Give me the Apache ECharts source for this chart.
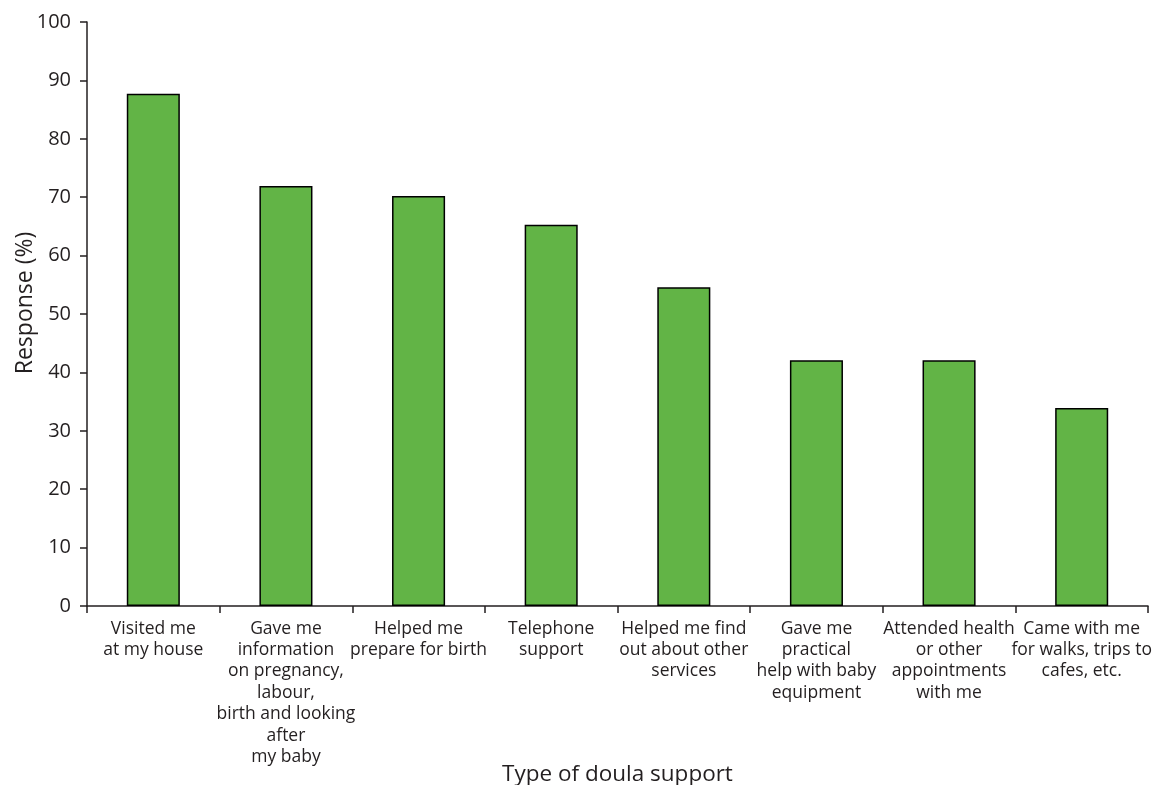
<!DOCTYPE html>
<html>
<head>
<meta charset="utf-8">
<script src="https://cdn.jsdelivr.net/npm/echarts@6/dist/echarts.min.js"></script>
<style>html,body{margin:0;padding:0;background:#fff;}#c{width:1170px;height:785px;}</style>
</head>
<body>
<div id="c"></div>
<script>
const categories = [
  "Visited me\nat my house",
  "Gave me\ninformation\non pregnancy,\nlabour,\nbirth and looking\nafter\nmy baby",
  "Helped me\nprepare for birth",
  "Telephone\nsupport",
  "Helped me find\nout about other\nservices",
  "Gave me\npractical\nhelp with baby\nequipment",
  "Attended health\nor other\nappointments\nwith me",
  "Came with me\nfor walks, trips to\ncafes, etc."
];
const responses = [87.7, 71.9, 70.2, 65.3, 54.6, 42.1, 42.1, 33.9];
const yTicks = [0, 100, 10];

const chart = echarts.init(document.getElementById('c'), null, {renderer: 'canvas'});
const font = '"Open Sans", "Noto Sans", sans-serif';
chart.setOption({
  animation: false,
  backgroundColor: '#ffffff',
  grid: {left: 87, right: 22, top: 22, bottom: 179, containLabel: false, outerBoundsMode: 'none'},
  xAxis: {
    type: 'category',
    data: categories,
    name: 'Type of doula support',
    nameLocation: 'middle',
    nameGap: 157,
    nameMoveOverlap: false,
    nameTextStyle: {fontFamily: font, fontSize: 22.5, color: '#231f20'},
    axisLine: {lineStyle: {color: '#231f20', width: 1.5}},
    axisTick: {show: true, length: 7, alignWithLabel: false, lineStyle: {color: '#231f20', width: 1.5}},
    axisLabel: {interval: 0, fontFamily: font, fontSize: 17.5, color: '#231f20', lineHeight: 21.4, margin: 12, align: 'center'},
    splitLine: {show: false}
  },
  yAxis: {
    type: 'value',
    min: yTicks[0], max: yTicks[1], interval: yTicks[2],
    name: 'Response (%)',
    nameLocation: 'middle',
    nameGap: 50,
    nameRotate: 90,
    nameMoveOverlap: false,
    nameTextStyle: {fontFamily: font, fontSize: 23, color: '#231f20', padding: [0, 0, 0, 22]},
    axisLine: {show: true, lineStyle: {color: '#231f20', width: 1.5}},
    axisTick: {show: true, length: 7, lineStyle: {color: '#231f20', width: 1.5}},
    axisLabel: {fontFamily: font, fontSize: 20, color: '#231f20', margin: 16},
    splitLine: {show: false}
  },
  series: [{
    type: 'bar',
    data: responses,
    barWidth: '40%',
    itemStyle: {color: '#62b446', borderColor: '#000000', borderWidth: 1.5}
  }]
});
</script>
</body>
</html>
